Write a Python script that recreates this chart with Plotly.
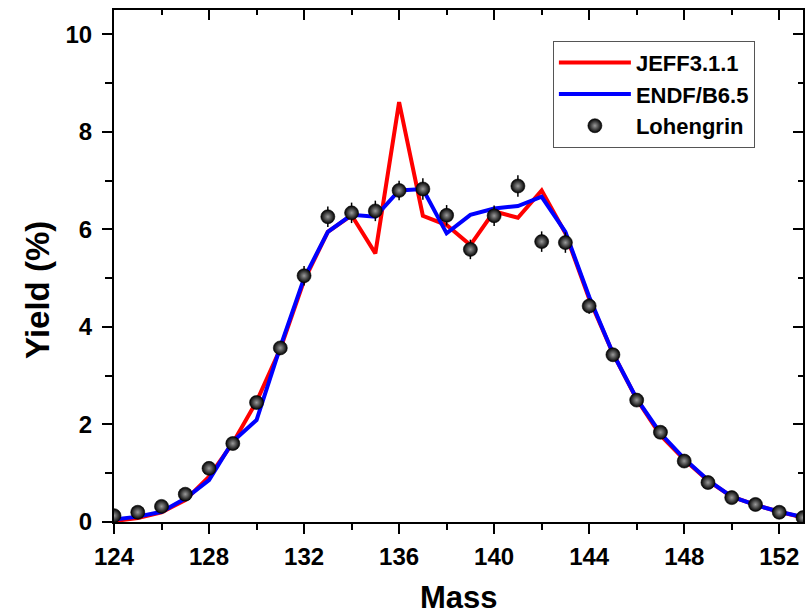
import plotly.graph_objects as go

mass = list(range(124, 154))

jeff = [0.02, 0.08, 0.20, 0.45, 0.93, 1.62, 2.47, 3.55, 4.95, 5.95,
        6.29, 5.51, 8.61, 6.28, 6.09, 5.68, 6.37, 6.24, 6.80, 5.92,
        4.58, 3.46, 2.52, 1.78, 1.28, 0.85, 0.52, 0.35, 0.21, 0.09]

endf = [0.05, 0.11, 0.21, 0.48, 0.86, 1.65, 2.09, 3.59, 5.00, 5.95,
        6.30, 6.26, 6.80, 6.83, 5.92, 6.30, 6.43, 6.48, 6.67, 5.95,
        4.62, 3.46, 2.53, 1.82, 1.30, 0.86, 0.52, 0.35, 0.21, 0.10]

loh = [0.13, 0.20, 0.32, 0.57, 1.10, 1.61, 2.45, 3.57, 5.05, 6.26,
       6.34, 6.38, 6.80, 6.83, 6.29, 5.59, 6.28, 6.89, 5.75, 5.73,
       4.43, 3.43, 2.50, 1.84, 1.25, 0.81, 0.50, 0.36, 0.20, 0.09]

loh_err = [0.01, 0.01, 0.02, 0.03, 0.05, 0.07, 0.10, 0.13, 0.20, 0.21,
           0.21, 0.21, 0.20, 0.22, 0.21, 0.20, 0.21, 0.22, 0.21, 0.21,
           0.16, 0.12, 0.09, 0.07, 0.05, 0.03, 0.02, 0.02, 0.01, 0.01]

x_ticks = [124, 128, 132, 136, 140, 144, 148, 152]
y_ticks = [0, 2, 4, 6, 8, 10]

FONT = "Arial, Liberation Sans, sans-serif"

fig = go.Figure()
fig.add_trace(go.Scatter(x=mass, y=jeff, mode="lines", name="JEFF3.1.1",
                         line=dict(color="#ff0000", width=4)))
fig.add_trace(go.Scatter(x=mass, y=endf, mode="lines", name="ENDF/B6.5",
                         line=dict(color="#0000ff", width=4)))
fig.add_trace(go.Scatter(x=mass, y=loh, mode="markers", name="Lohengrin",
                         marker=dict(color="#000000", size=14,
                                     gradient=dict(type="radial", color="#9a9a9a"),
                                     line=dict(color="#000000", width=0.6)),
                         error_y=dict(type="data", array=loh_err, color="#000000",
                                      thickness=1.5, width=0)))
# invisible trace to anchor mirror axes
fig.add_trace(go.Scatter(x=[mass[0]], y=[loh[0]], xaxis="x2", yaxis="y2",
                         mode="markers", marker=dict(opacity=0), showlegend=False,
                         hoverinfo="skip"))

axis_common = dict(showline=True, linecolor="black", linewidth=2, showgrid=False,
                   zeroline=False, tickcolor="black", tickwidth=2)

fig.update_layout(
    width=811, height=615,
    margin=dict(l=114, r=8, t=10, b=93),
    paper_bgcolor="white", plot_bgcolor="white",
    font=dict(family=FONT, color="black"),
    xaxis=dict(range=[124, 153], tickvals=x_ticks, ticks="outside", ticklen=10,
               minor=dict(dtick=2, tick0=124, ticks="outside", ticklen=6,
                          tickcolor="black", tickwidth=2),
               tickfont=dict(size=24, family=FONT, weight="bold"),
               ticklabelstandoff=2,
               **axis_common),
    yaxis=dict(range=[0, 10.5], tickvals=y_ticks, ticks="outside", ticklen=10,
               minor=dict(dtick=1, tick0=0, ticks="outside", ticklen=7,
                          tickcolor="black", tickwidth=2),
               tickfont=dict(size=24, family=FONT, weight="bold"),
               ticklabelstandoff=5,
               **axis_common),
    xaxis2=dict(overlaying="x", side="top", range=[124, 153], tickvals=x_ticks,
                ticks="inside", ticklen=10, showticklabels=False,
                minor=dict(dtick=2, tick0=124, ticks="inside", ticklen=5,
                           tickcolor="black", tickwidth=2),
                anchor="y", **axis_common),
    yaxis2=dict(overlaying="y", side="right", range=[0, 10.5], tickvals=y_ticks,
                ticks="inside", ticklen=10, showticklabels=False,
                minor=dict(dtick=1, tick0=0, ticks="inside", ticklen=5,
                           tickcolor="black", tickwidth=2),
                anchor="x", **axis_common),
    legend=dict(x=0.637, y=0.94, xanchor="left", yanchor="top",
                bgcolor="white", bordercolor="#555555", borderwidth=1,
                font=dict(size=22, family=FONT, weight="bold"),
                itemwidth=72, tracegroupgap=0),
    showlegend=True,
    annotations=[
        dict(text="Mass", xref="paper", yref="paper", x=0.5, y=-0.185,
             xanchor="center", yanchor="bottom", showarrow=False,
             font=dict(size=31, family=FONT, weight="bold")),
        dict(text="Yield (%)", xref="paper", yref="paper", x=-0.112, y=0.453,
             xanchor="center", yanchor="middle", showarrow=False, textangle=-90,
             font=dict(size=33, family=FONT, weight="bold")),
    ],
)

fig.write_html("out.html")
